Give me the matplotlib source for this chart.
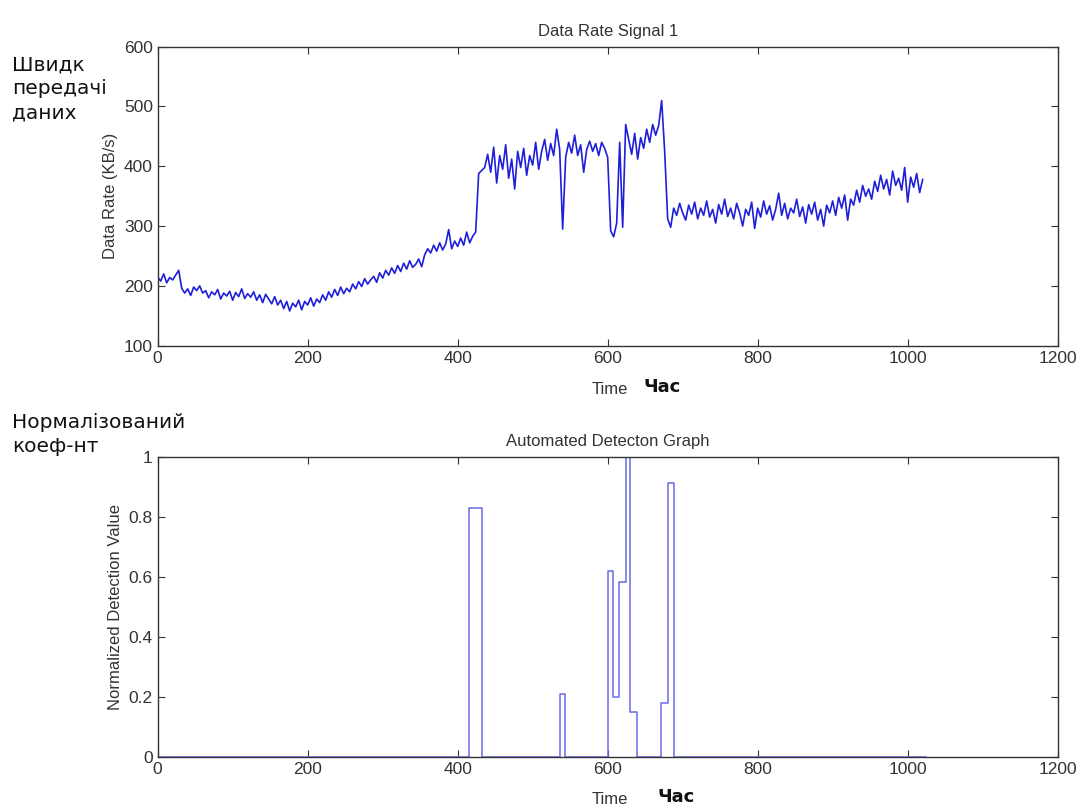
import numpy as np
import matplotlib
matplotlib.use("Agg")
import matplotlib.pyplot as plt

# data rate samples, one every 4 time units
rate = [
    215, 208, 220, 205, 214, 210, 218, 226, 196, 188, 195, 184, 198, 192, 200, 188,
    192, 180, 190, 185, 194, 178, 188, 183, 191, 176, 189, 182, 195, 179, 187, 181,
    190, 176, 185, 172, 186, 178, 170, 182, 168, 176, 162, 174, 158, 171, 165, 176,
    160, 174, 168, 180, 166, 178, 172, 185, 176, 190, 181, 194, 184, 198, 187, 196,
    190, 203, 195, 207, 199, 212, 203, 210, 216, 206, 222, 213, 226, 218, 230, 221,
    234, 224, 238, 228, 242, 231, 236, 245, 232, 252, 262, 255, 268, 258, 272, 260,
    270, 294, 262, 275, 266, 280, 268, 290, 272, 283, 290, 388, 393, 398, 420, 390,
    432, 372, 418, 395, 436, 380, 412, 362, 425, 398, 430, 385, 418, 402, 440, 395,
    425, 445, 410, 438, 418, 462, 428, 295, 415, 440, 422, 452, 418, 436, 390, 428,
    442, 425, 438, 418, 440, 430, 415, 292, 282, 305, 440, 298, 470, 445, 420, 455,
    412, 448, 430, 462, 440, 470, 452, 468, 510, 425, 312, 298, 330, 318, 338, 322,
    310, 335, 320, 340, 312, 330, 318, 342, 315, 328, 305, 336, 320, 345, 316, 330,
    312, 338, 322, 300, 328, 318, 340, 296, 330, 315, 342, 320, 334, 310, 328, 355,
    318, 338, 312, 330, 322, 345, 316, 332, 305, 336, 320, 340, 310, 328, 300, 335,
    322, 342, 318, 348, 330, 352, 310, 345, 335, 360, 340, 368, 350, 362, 345, 375,
    358, 385, 362, 378, 352, 392, 368, 380, 360, 398, 340, 382, 365, 388, 356, 378,
]
time = np.arange(len(rate)) * 4

# detection value steps: value holds from edge i to edge i+1
det_edges = [0, 415, 432, 536, 543, 600, 607, 615, 624, 630, 639, 671, 680, 688, 1024]
det_vals = [0, 0.83, 0, 0.21, 0, 0.62, 0.20, 0.585, 1.0, 0.152, 0, 0.182, 0.913, 0, 0]

fig = plt.figure(figsize=(10.83, 8.08), dpi=100)
ax1 = fig.add_axes([0.1456, 0.5722, 0.831, 0.370])
ax2 = fig.add_axes([0.1456, 0.0627, 0.831, 0.3713])

num_font = dict(family="Liberation Sans", size=12, color="#333333")

ax1.plot(time, rate, color="#1f1fd8", linewidth=1.2)
ax1.set_xlim(0, 1200)
ax1.set_ylim(100, 600)
ax1.set_yticks([100, 200, 300, 400, 500, 600])
ax1.set_title("Data Rate Signal 1", fontdict=num_font, pad=8)
ax1.set_ylabel("Data Rate (KB/s)", fontdict=num_font, labelpad=4)

ax2.step(det_edges, det_vals, where="post", color="#6a6ae4", linewidth=1.1)
ax2.set_xlim(0, 1200)
ax2.set_ylim(0, 1)
ax2.set_yticks([0, 0.2, 0.4, 0.6, 0.8, 1])
ax2.set_yticklabels(["0", "0.2", "0.4", "0.6", "0.8", "1"])
ax2.set_title("Automated Detecton Graph", fontdict=num_font, pad=8)
ax2.set_ylabel("Normalized Detection Value", fontdict=num_font, labelpad=4)

for ax in (ax1, ax2):
    ax.set_xticks([0, 200, 400, 600, 800, 1000, 1200])
    ax.tick_params(direction="in", top=True, right=True, length=5,
                   labelsize=12.5, labelcolor="#333333", color="#333333")
    for lab in ax.get_xticklabels() + ax.get_yticklabels():
        lab.set_family("Liberation Sans")
    for s in ax.spines.values():
        s.set_color("#333333")
        s.set_linewidth(1.0)

# x labels: "Time" plus the Ukrainian word
fig.text(0.563, 0.518, "Time", ha="center", va="center", **num_font)
fig.text(0.611, 0.521, "Час", ha="center", va="center",
         family="DejaVu Sans", fontsize=13, fontweight="bold", color="#111111")
fig.text(0.563, 0.010, "Time", ha="center", va="center", **num_font)
fig.text(0.624, 0.013, "Час", ha="center", va="center",
         family="DejaVu Sans", fontsize=13, fontweight="bold", color="#111111")

# Ukrainian notes at the left, one line per text
note_font = dict(family="DejaVu Sans", fontsize=14.5, color="#111111",
                 ha="left", va="center")
fig.text(0.011, 0.9196, "Швидк", **note_font)
fig.text(0.011, 0.8899, "передачі", **note_font)
fig.text(0.011, 0.8601, "даних", **note_font)
fig.text(0.011, 0.4777, "Нормалізований", **note_font)
fig.text(0.011, 0.4480, "коеф-нт", **note_font)

fig.savefig("out.png", dpi=100)
